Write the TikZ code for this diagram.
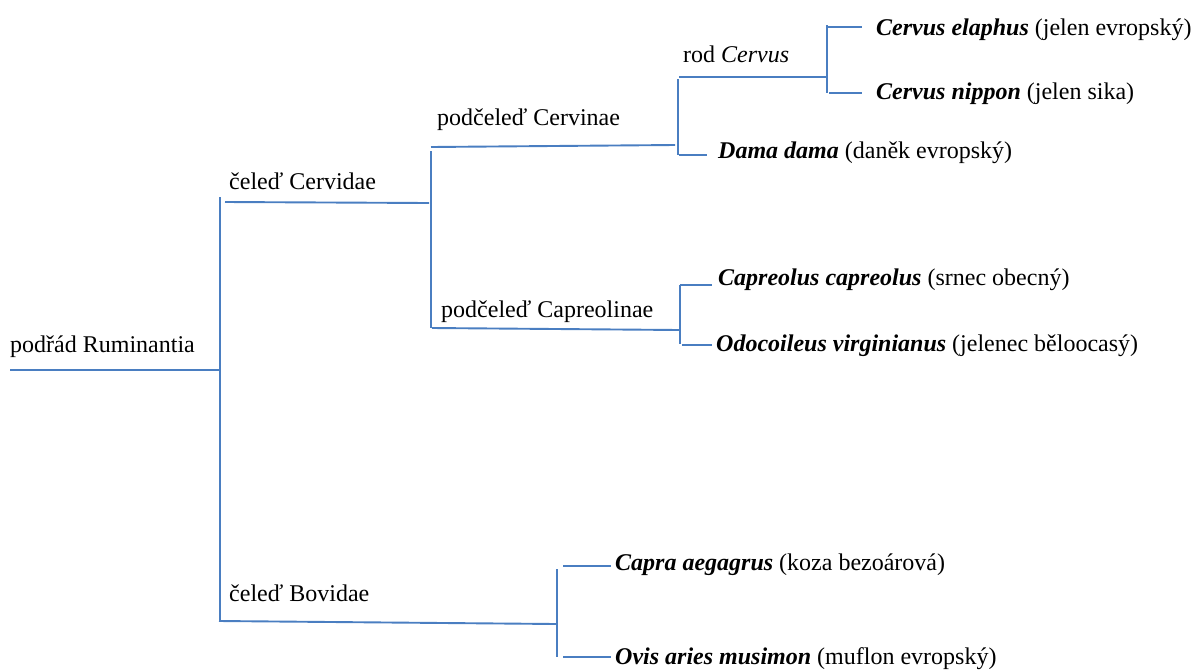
\documentclass[tikz,border=0pt]{standalone}
\usepackage{fontspec}
\setmainfont{Liberation Serif}
\definecolor{treeblue}{RGB}{74,126,193}
\begin{document}
\begin{tikzpicture}[x=1pt,y=-1pt,
  branch/.style={draw=treeblue,line width=1.9pt},
  lbl/.style={anchor=base west,inner sep=0pt,font=\fontsize{24}{28}\selectfont}]
\useasboundingbox (0,0) rectangle (1197,670);
% coordinates
\coordinate (r0) at (10,370);   \coordinate (r1) at (220,370);
\coordinate (v1t) at (220,197); \coordinate (v1b) at (220,622);
\coordinate (c0) at (225,202);  \coordinate (c1) at (429,203);
\coordinate (v2t) at (431,151); \coordinate (v2b) at (431,328);
\coordinate (n0) at (431,147);  \coordinate (n1) at (675,145);
\coordinate (v3t) at (678,79);  \coordinate (v3b) at (678,155);
\coordinate (g0) at (679,77);   \coordinate (g1) at (827,77);
\coordinate (v4t) at (827,25);  \coordinate (v4b) at (827,93);
\coordinate (e0) at (827,27);   \coordinate (e1) at (862,27);
\coordinate (s0) at (829,93);   \coordinate (s1) at (862,93);
\coordinate (d0) at (679,155);  \coordinate (d1) at (707,155);
\coordinate (p0) at (432,328);  \coordinate (p1) at (679,330);
\coordinate (v5t) at (680,285); \coordinate (v5b) at (680,344);
\coordinate (k0) at (680,285);  \coordinate (k1) at (712,285);
\coordinate (o0) at (682,345);  \coordinate (o1) at (712,345);
\coordinate (b0) at (219,621);  \coordinate (b1) at (556,624);
\coordinate (v6t) at (557,569); \coordinate (v6b) at (557,657);
\coordinate (a0) at (563,566);  \coordinate (a1) at (611,566);
\coordinate (w0) at (563,657);  \coordinate (w1) at (611,657);
% branches
\draw[branch] (r0) -- (r1);
\draw[branch] (v1t) -- (v1b);
\draw[branch] (c0) -- (c1);
\draw[branch] (v2t) -- (v2b);
\draw[branch] (n0) -- (n1);
\draw[branch] (v3t) -- (v3b);
\draw[branch] (g0) -- (g1);
\draw[branch] (v4t) -- (v4b);
\draw[branch] (e0) -- (e1);
\draw[branch] (s0) -- (s1);
\draw[branch] (d0) -- (d1);
\draw[branch] (p0) -- (p1);
\draw[branch] (v5t) -- (v5b);
\draw[branch] (k0) -- (k1);
\draw[branch] (o0) -- (o1);
\draw[branch] (b0) -- (b1);
\draw[branch] (v6t) -- (v6b);
\draw[branch] (a0) -- (a1);
\draw[branch] (w0) -- (w1);
% labels
\node[lbl] (tRum) at (10,352) {podřád Ruminantia};
\node[lbl] (tCerv) at (229,189) {čeleď Cervidae};
\node[lbl] (tCervin) at (437,125) {podčeleď Cervinae};
\node[lbl] (tRod) at (683,62) {rod \textit{Cervus}};
\node[lbl] (tEla) at (876,35) {\textbf{\textit{Cervus elaphus}} (jelen evropský)};
\node[lbl] (tNip) at (876,99) {\textbf{\textit{Cervus nippon}} (jelen sika)};
\node[lbl] (tDama) at (718,158) {\textbf{\textit{Dama dama}} (daněk evropský)};
\node[lbl] (tCapreol) at (441,317) {podčeleď Capreolinae};
\node[lbl] (tCapr) at (718,285) {\textbf{\textit{Capreolus capreolus}} (srnec obecný)};
\node[lbl] (tOdo) at (716,351) {\textbf{\textit{Odocoileus virginianus}} (jelenec běloocasý)};
\node[lbl] (tBov) at (229,601) {čeleď Bovidae};
\node[lbl] (tCapra) at (615,570) {\textbf{\textit{Capra aegagrus}} (koza bezoárová)};
\node[lbl] (tOvis) at (615,664) {\textbf{\textit{Ovis aries musimon}} (muflon evropský)};
\end{tikzpicture}
\end{document}
